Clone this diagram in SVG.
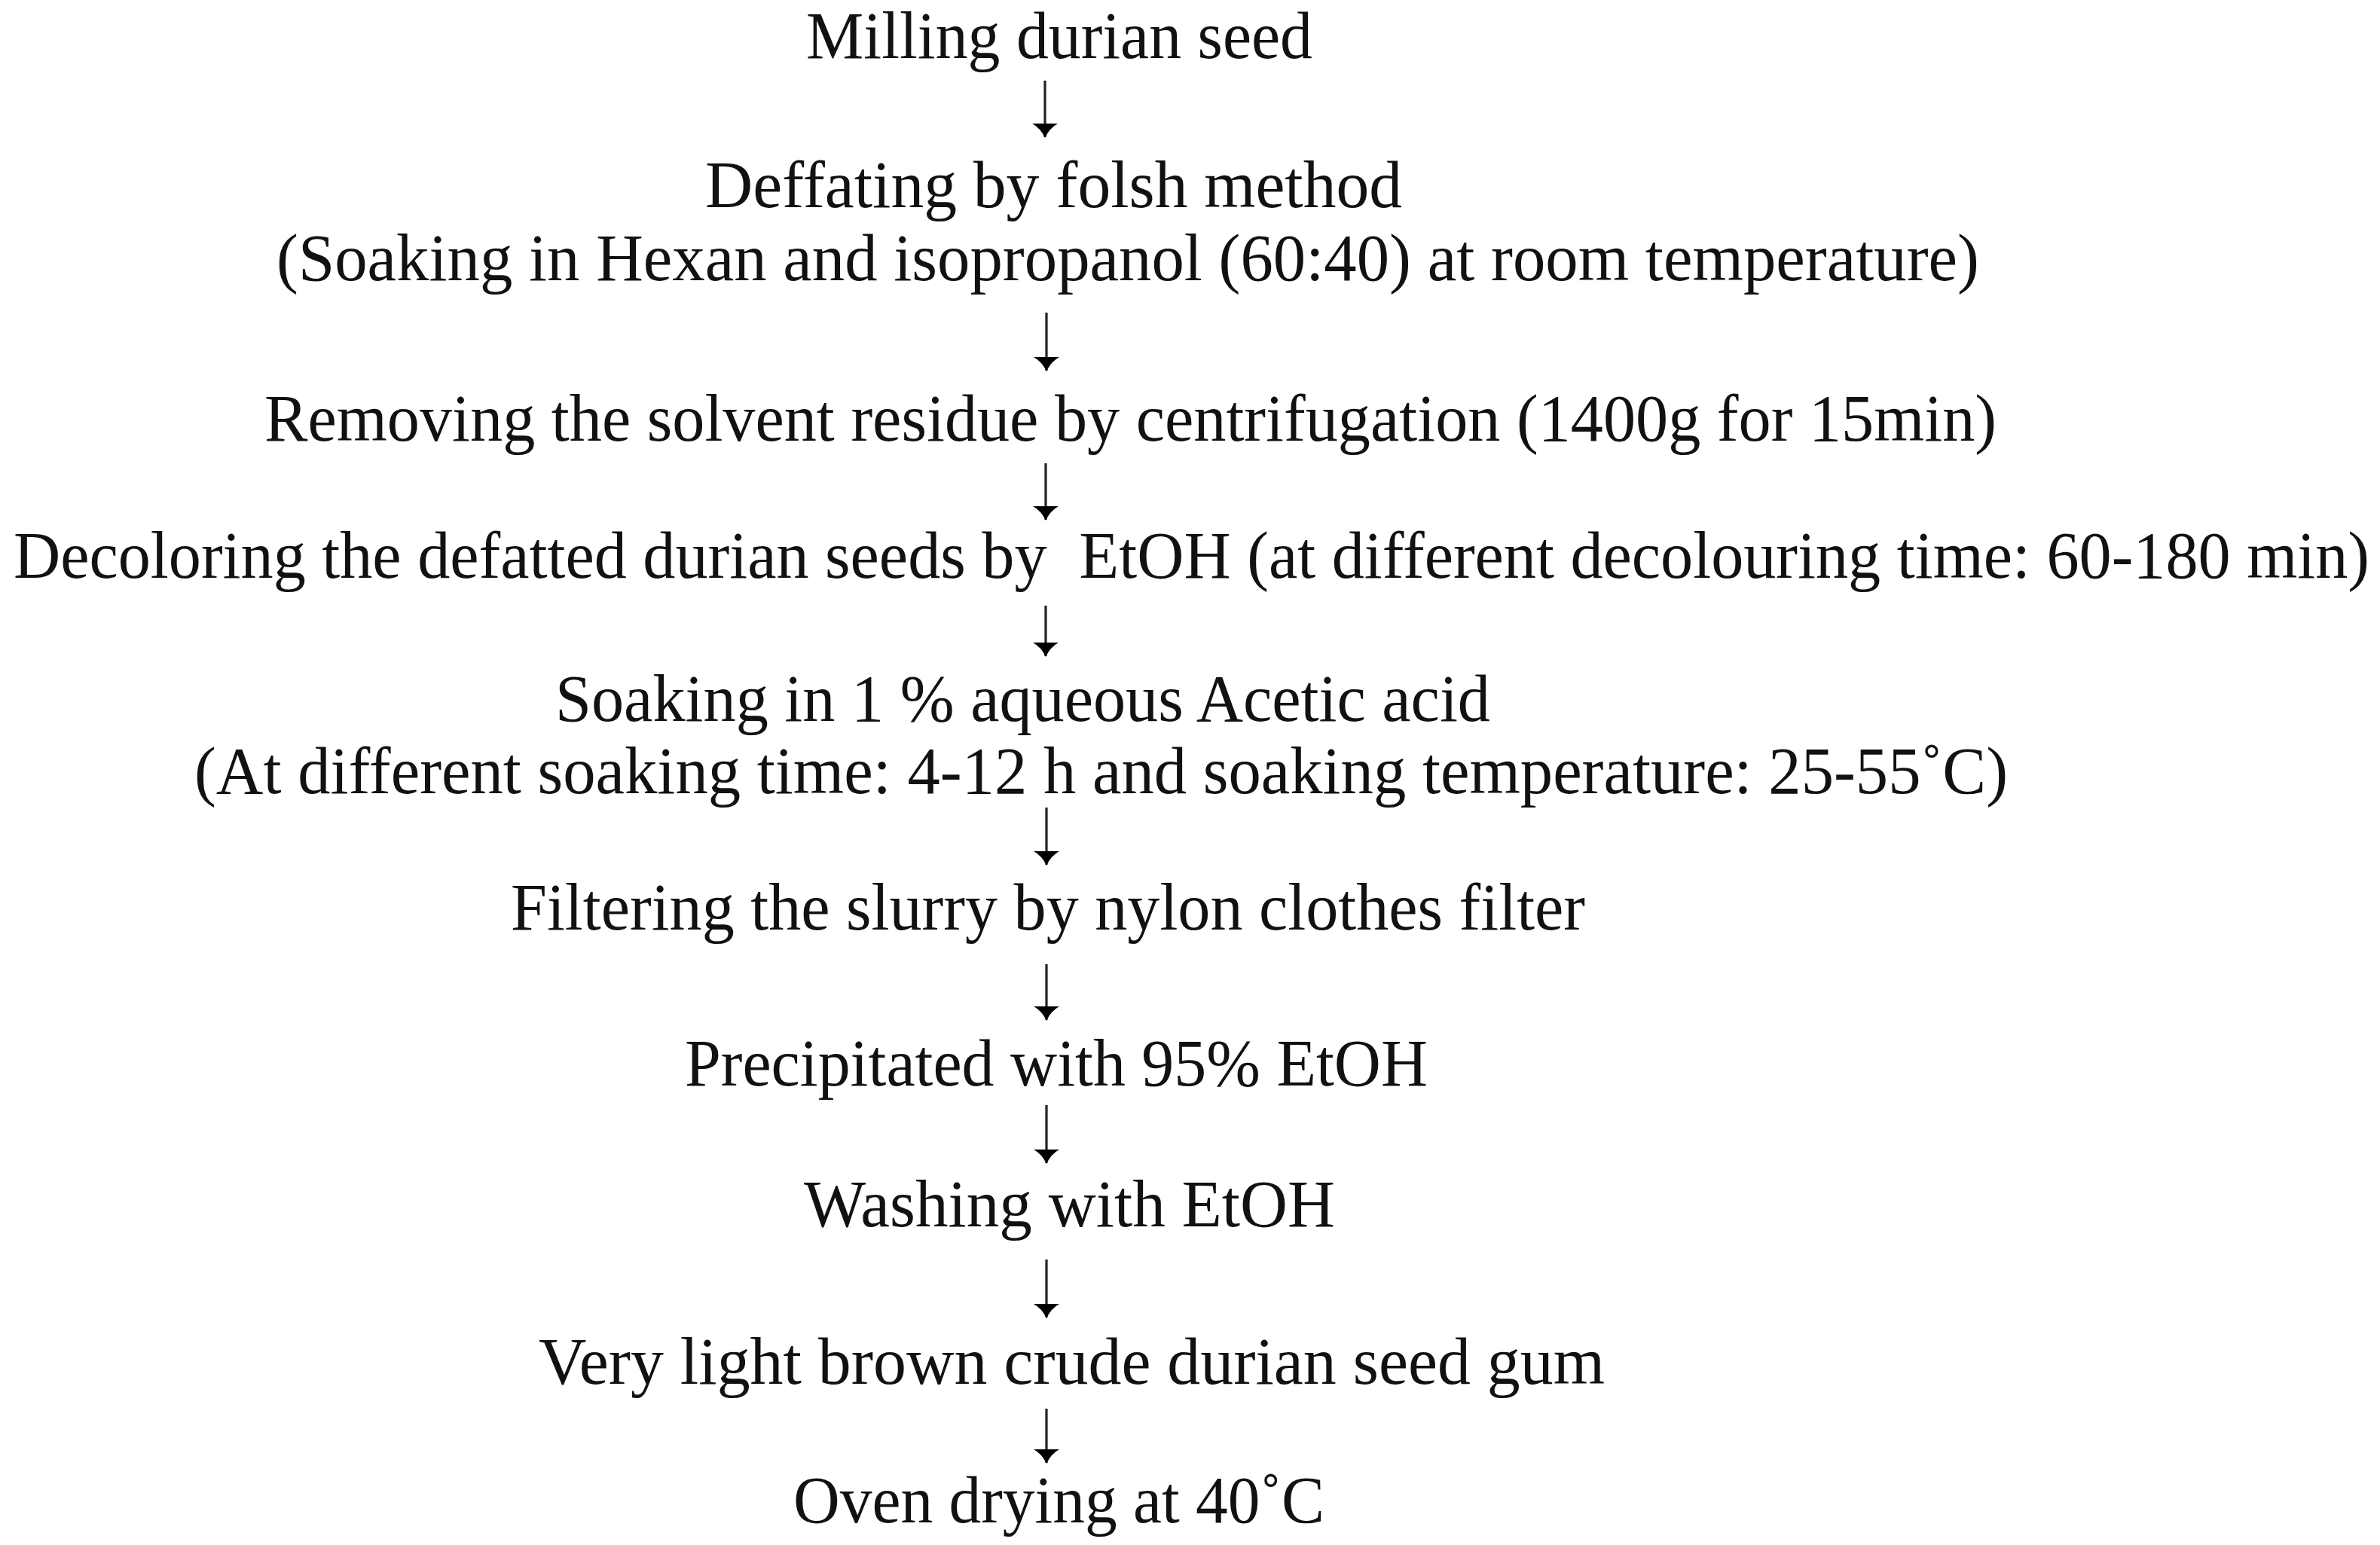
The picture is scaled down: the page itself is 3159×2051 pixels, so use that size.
<svg xmlns="http://www.w3.org/2000/svg" width="3159" height="2051" viewBox="0 0 3159 2051">
<style>
  text { font-family: "Liberation Serif", "Times New Roman", serif; font-size: 89px; fill: #111; }
  .arr line { stroke: #222; stroke-width: 3.2; }
  .arr path { stroke: #222; stroke-width: 3.2; fill: none; stroke-linecap: round; }
</style>
<rect width="3159" height="2051" fill="#fff"/>
<defs>
  <g id="head"><path d="M -17 -19 Q -6 -13 0 0 Q 6 -13 17 -19"/></g>
</defs>
<g id="n1"><text x="1070" y="77" textLength="672" lengthAdjust="spacingAndGlyphs">Milling durian seed</text></g>
<g id="n2">
  <text x="936" y="275" textLength="925" lengthAdjust="spacingAndGlyphs">Deffating by folsh method</text>
  <text x="367" y="372" textLength="2260" lengthAdjust="spacingAndGlyphs">(Soaking in Hexan and isopropanol (60:40) at room temperature)</text>
</g>
<g id="n3"><text x="351" y="585" textLength="2299" lengthAdjust="spacingAndGlyphs">Removing the solvent residue by centrifugation (1400g for 15min)</text></g>
<g id="n4"><text x="18" y="767" textLength="3127" lengthAdjust="spacingAndGlyphs" xml:space="preserve">Decoloring the defatted durian seeds by  EtOH (at different decolouring time: 60-180 min)</text></g>
<g id="n5">
  <text x="737" y="957" textLength="1241" lengthAdjust="spacingAndGlyphs">Soaking in 1 % aqueous Acetic acid</text>
  <text x="258" y="1053" textLength="2407" lengthAdjust="spacingAndGlyphs">(At different soaking time: 4-12 h and soaking temperature: 25-55˚C)</text>
</g>
<g id="n6"><text x="678" y="1234" textLength="1426" lengthAdjust="spacingAndGlyphs">Filtering the slurry by nylon clothes filter</text></g>
<g id="n7"><text x="909" y="1441" textLength="986" lengthAdjust="spacingAndGlyphs">Precipitated with 95% EtOH</text></g>
<g id="n8"><text x="1067" y="1628" textLength="705" lengthAdjust="spacingAndGlyphs">Washing with EtOH</text></g>
<g id="n9"><text x="715" y="1837" textLength="1415" lengthAdjust="spacingAndGlyphs">Very light brown crude durian seed gum</text></g>
<g id="n10"><text x="1053" y="2021" textLength="705" lengthAdjust="spacingAndGlyphs">Oven drying at 40˚C</text></g>
<g id="connectors" class="arr">
  <line x1="1387" y1="107" x2="1387" y2="182"/><use href="#head" x="1387" y="183"/>
  <line x1="1389" y1="415" x2="1389" y2="492"/><use href="#head" x="1389" y="493"/>
  <line x1="1388" y1="615" x2="1388" y2="690"/><use href="#head" x="1388" y="691"/>
  <line x1="1388" y1="804" x2="1388" y2="871"/><use href="#head" x="1388" y="872"/>
  <line x1="1389" y1="1072" x2="1389" y2="1148"/><use href="#head" x="1389" y="1149"/>
  <line x1="1389" y1="1280" x2="1389" y2="1354"/><use href="#head" x="1389" y="1355"/>
  <line x1="1389" y1="1467" x2="1389" y2="1544"/><use href="#head" x="1389" y="1545"/>
  <line x1="1389" y1="1672" x2="1389" y2="1749"/><use href="#head" x="1389" y="1750"/>
  <line x1="1389" y1="1870" x2="1389" y2="1942"/><use href="#head" x="1389" y="1943"/>
</g>
</svg>
